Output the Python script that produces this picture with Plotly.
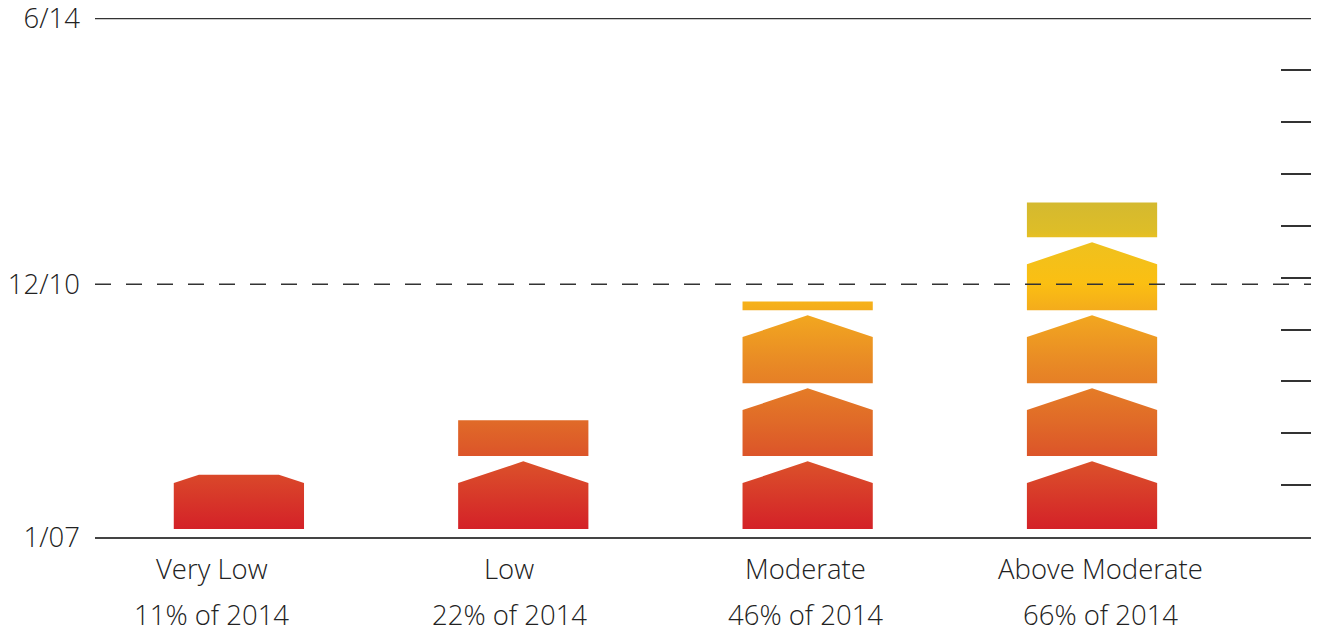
import plotly.graph_objects as go

# Categories and their level expressed as a share of 2014
categories = ["Very Low", "Low", "Moderate", "Above Moderate"]
share_labels = ["11% of 2014", "22% of 2014", "46% of 2014", "66% of 2014"]
share_of_2014 = [11, 22, 46, 66]

# Date labels on the vertical axis (positions on the percent scale)
date_labels = ["1/07", "12/10", "6/14"]
date_positions = [-1.6, 49.5, 103.2]

# Arrow-unit geometry (percent units / category units)
UNIT = 14.75      # vertical period of one arrow
SHOULDER = 9.3    # height of the straight sides
PEAK = 13.7       # height of the tip
HALF = 0.229      # half width of a column

# horizontal nudge (px) of each category caption
CAPTION_SHIFT = [-27, -14, -2, 8]

GRADIENT = [
    [0.00, "#d42128"],
    [0.17, "#da4a2a"],
    [0.32, "#e06a28"],
    [0.50, "#e98b25"],
    [0.62, "#f1a420"],
    [0.73, "#fbbf12"],
    [0.85, "#efc11e"],
    [0.89, "#ddbd28"],
    [1.00, "#d1b832"],
]


def arrow_stack(xc, level):
    xs, ys = [], []
    b = 0.0
    x0, x1 = xc - HALF, xc + HALF
    while b < level:
        top = min(level, b + PEAK)
        if top <= b + SHOULDER:
            pts = [(x0, b), (x1, b), (x1, top), (x0, top)]
        else:
            dx = HALF * (b + PEAK - top) / (PEAK - SHOULDER)
            pts = [(x0, b), (x1, b), (x1, b + SHOULDER), (xc + dx, top),
                   (xc - dx, top), (x0, b + SHOULDER)]
        pts.append(pts[0])
        xs += [p[0] for p in pts] + [None]
        ys += [p[1] for p in pts] + [None]
        b += UNIT
    return xs, ys


fig = go.Figure()
for i, v in enumerate(share_of_2014):
    xs, ys = arrow_stack(i, v)
    fig.add_trace(go.Scatter(
        x=xs, y=ys, mode="lines", fill="toself", line=dict(width=0),
        fillgradient=dict(type="vertical", colorscale=GRADIENT, start=0, stop=68),
        hoverinfo="skip", showlegend=False,
    ))

# invisible trace to anchor the right-hand tick axis
fig.add_trace(go.Scatter(x=[0], y=[0], yaxis="y2", mode="markers",
                         marker=dict(opacity=0), showlegend=False, hoverinfo="skip"))

y_min, y_max = date_positions[0], date_positions[-1]
y_range = [y_min, y_max + 0.1]
x_range = [-0.506, 3.770]

text_font = dict(family="Open Sans", size=27.5, color="#222222", weight=300)

fig.update_layout(
    width=1319, height=633,
    margin=dict(l=95, r=8, t=18, b=96, autoexpand=False),
    plot_bgcolor="white", paper_bgcolor="white",
    xaxis=dict(range=x_range, showticklabels=False, showgrid=False, zeroline=False,
               showline=True, linecolor="#444444", linewidth=2, fixedrange=True,
               automargin=False),
    yaxis=dict(range=y_range, tickmode="array", tickvals=date_positions,
               ticktext=date_labels, showgrid=False, zeroline=False, showline=False,
               ticks="", ticklabelstandoff=14, ticklabeloverflow="allow",
               tickfont=text_font, automargin=False),
    yaxis2=dict(range=y_range, overlaying="y", side="right", tickmode="array",
                tickvals=[y_min + k * (y_max - y_min) / 10 for k in range(1, 10)],
                ticks="inside", ticklen=30, tickwidth=1.5, tickcolor="#333333",
                showticklabels=False, showgrid=False, zeroline=False, showline=False,
                automargin=False),
    shapes=[
        dict(type="line", xref="paper", x0=0, x1=1, yref="y", y0=y_max, y1=y_max,
             line=dict(color="#333333", width=1.5)),
        dict(type="line", xref="paper", x0=0, x1=1, yref="y",
             y0=date_positions[1], y1=date_positions[1],
             line=dict(color="#333333", width=1.5, dash="16px,15px")),
    ],
)

for i, (c, s) in enumerate(zip(categories, share_labels)):
    fig.add_annotation(x=i, xref="x", y=0, yref="paper", text=c, showarrow=False,
                       yanchor="middle", yshift=-31, xshift=CAPTION_SHIFT[i],
                       font=text_font)
    fig.add_annotation(x=i, xref="x", y=0, yref="paper", text=s, showarrow=False,
                       yanchor="middle", yshift=-77, xshift=CAPTION_SHIFT[i],
                       font=text_font)

fig.write_html("out.html")
